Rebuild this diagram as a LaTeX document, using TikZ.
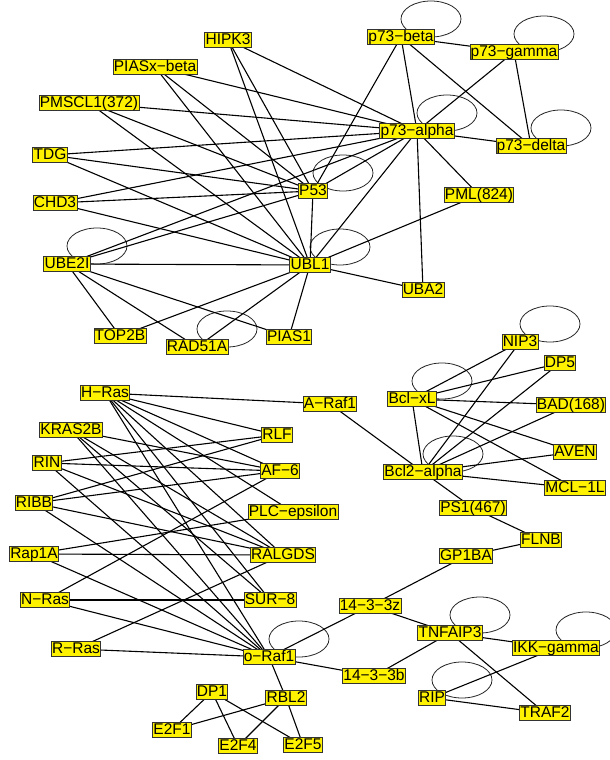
\documentclass[tikz,border=0pt]{standalone}
\usepackage{fontspec}
\setmainfont{Liberation Sans}
\usetikzlibrary{backgrounds}
\begin{document}
\begin{tikzpicture}[x=1pt,y=-1pt,
  gene/.style={draw=black!80, line width=0.8pt, fill=yellow, inner xsep=0.8pt, inner ysep=0.3pt,
    text height=11.2pt, text depth=3pt, font=\fontsize{15.5}{16}\selectfont},
  link/.style={line width=1.1pt, black},
  selfloop/.style={line width=0.8pt, black!85}]
\useasboundingbox (0,0) rectangle (610,760);
% top cluster
\node[gene] (HIPK3) at (228,40) {HIPK3};
\node[gene] (PIASxbeta) at (155,67) {PIASx−beta};
\node[gene] (PMSCL1) at (89,103) {PMSCL1(372)};
\node[gene] (TDG) at (50,155) {TDG};
\node[gene] (CHD3) at (55,203) {CHD3};
\node[gene] (UBE2I) at (67,264) {UBE2I};
\node[gene] (TOP2B) at (120,336) {TOP2B};
\node[gene] (RAD51A) at (197,347) {RAD51A};
\node[gene] (PIAS1) at (289,337) {PIAS1};
\node[gene] (UBL1) at (310,265) {UBL1};
\node[gene] (P53) at (313,191) {P53};
\node[gene] (p73alpha) at (417,131) {p73−alpha};
\node[gene] (p73beta) at (401,37) {p73−beta};
\node[gene] (p73gamma) at (514,52) {p73−gamma};
\node[gene] (p73delta) at (531,146) {p73−delta};
\node[gene] (PML) at (479,195) {PML(824)};
\node[gene] (UBA2) at (423,290) {UBA2};
% bcl cluster
\node[gene] (NIP3) at (520,342) {NIP3};
\node[gene] (DP5) at (560,363) {DP5};
\node[gene] (BclxL) at (412,399) {Bcl−xL};
\node[gene] (BAD) at (571,405) {BAD(168)};
\node[gene] (AVEN) at (575,452) {AVEN};
\node[gene] (MCL1L) at (575,488) {MCL−1L};
\node[gene] (Bcl2alpha) at (423,472) {Bcl2−alpha};
\node[gene] (PS1) at (473,508) {PS1(467)};
\node[gene] (FLNB) at (541,540) {FLNB};
\node[gene] (GP1BA) at (466,556) {GP1BA};
% ras cluster
\node[gene] (ARaf1) at (330,404) {A−Raf1};
\node[gene] (HRas) at (105,393) {H−Ras};
\node[gene] (KRAS2B) at (71,430) {KRAS2B};
\node[gene] (RIN) at (47,463) {RIN};
\node[gene] (RIBB) at (34,503) {RIBB};
\node[gene] (Rap1A) at (34,554) {Rap1A};
\node[gene] (RLF) at (277,435) {RLF};
\node[gene] (AF6) at (280,471) {AF−6};
\node[gene] (PLC) at (293,512) {PLC−epsilon};
\node[gene] (RALGDS) at (283,555) {RALGDS};
\node[gene] (NRas) at (45,600) {N−Ras};
\node[gene] (SUR8) at (270,600) {SUR−8};
\node[gene] (RRas) at (76,649) {R−Ras};
\node[gene] (oRaf1) at (269,657) {o−Raf1};
\node[gene] (DP1) at (212,692) {DP1};
\node[gene] (RBL2) at (286,698) {RBL2};
\node[gene] (E2F1) at (172,730) {E2F1};
\node[gene] (E2F4) at (238,746) {E2F4};
\node[gene] (E2F5) at (303,745) {E2F5};
% bottom right
\node[gene] (z1433) at (370,606) {14−3−3z};
\node[gene] (TNFAIP3) at (450,633) {TNFAIP3};
\node[gene] (IKKg) at (556,648) {IKK−gamma};
\node[gene] (b1433) at (374,676) {14−3−3b};
\node[gene] (RIP) at (432,698) {RIP};
\node[gene] (TRAF2) at (545,713) {TRAF2};

\begin{scope}[on background layer]
\foreach \n in {p73beta,p73gamma,p73alpha,p73delta,P53,UBE2I,UBL1,RAD51A,NIP3,BclxL,Bcl2alpha,oRaf1,TNFAIP3,IKKg,RIP}
  \draw[selfloop] ([shift={(30,-18)}]\n.center) ellipse [x radius=30pt, y radius=18pt];
% top cluster edges
\foreach \a/\b in {HIPK3/p73alpha,HIPK3/P53,HIPK3/UBL1,
  PIASxbeta/p73alpha,PIASxbeta/P53,PIASxbeta/UBL1,
  PMSCL1/p73alpha,PMSCL1/P53,PMSCL1/UBL1,
  TDG/p73alpha,TDG/P53,TDG/UBL1,
  CHD3/p73alpha,CHD3/P53,CHD3/UBL1,
  UBE2I/UBL1,UBE2I/P53,UBE2I/p73alpha,UBE2I/TOP2B,UBE2I/RAD51A,UBE2I/PIAS1,
  TOP2B/UBL1,RAD51A/UBL1,PIAS1/UBL1,
  UBL1/P53,UBL1/p73alpha,UBL1/PML,UBL1/UBA2,
  P53/p73alpha,P53/p73beta,
  p73alpha/p73beta,p73alpha/p73gamma,p73alpha/p73delta,p73alpha/PML,p73alpha/UBA2,
  p73beta/p73gamma,p73beta/p73delta,p73gamma/p73delta}
  \draw[link] (\a.center) -- (\b.center);
% bcl edges
\foreach \a/\b in {BclxL/NIP3,BclxL/DP5,BclxL/BAD,BclxL/AVEN,BclxL/MCL1L,BclxL/Bcl2alpha,
  Bcl2alpha/NIP3,Bcl2alpha/DP5,Bcl2alpha/BAD,Bcl2alpha/AVEN,Bcl2alpha/MCL1L,Bcl2alpha/PS1,Bcl2alpha/ARaf1,
  PS1/FLNB,FLNB/GP1BA,GP1BA/z1433,z1433/oRaf1,z1433/TNFAIP3,TNFAIP3/b1433,b1433/oRaf1,
  TNFAIP3/IKKg,TNFAIP3/TRAF2,IKKg/RIP,RIP/TRAF2,
  oRaf1/RBL2,RBL2/E2F1,RBL2/E2F4,RBL2/E2F5,DP1/E2F1,DP1/E2F4,DP1/E2F5}
  \draw[link] (\a.center) -- (\b.center);
% ras edges
\foreach \a/\b in {HRas/ARaf1,HRas/RLF,HRas/AF6,HRas/PLC,HRas/RALGDS,HRas/SUR8,HRas/oRaf1,
  KRAS2B/AF6,KRAS2B/RALGDS,KRAS2B/SUR8,KRAS2B/oRaf1,
  RIN/RLF,RIN/AF6,RIN/RALGDS,RIN/oRaf1,
  RIBB/RLF,RIBB/AF6,RIBB/RALGDS,RIBB/oRaf1,
  Rap1A/PLC,Rap1A/RALGDS,Rap1A/oRaf1,
  NRas/AF6,NRas/SUR8,NRas/oRaf1,
  RRas/RALGDS,RRas/oRaf1}
  \draw[link] (\a.center) -- (\b.center);
\end{scope}
\end{tikzpicture}
\end{document}
